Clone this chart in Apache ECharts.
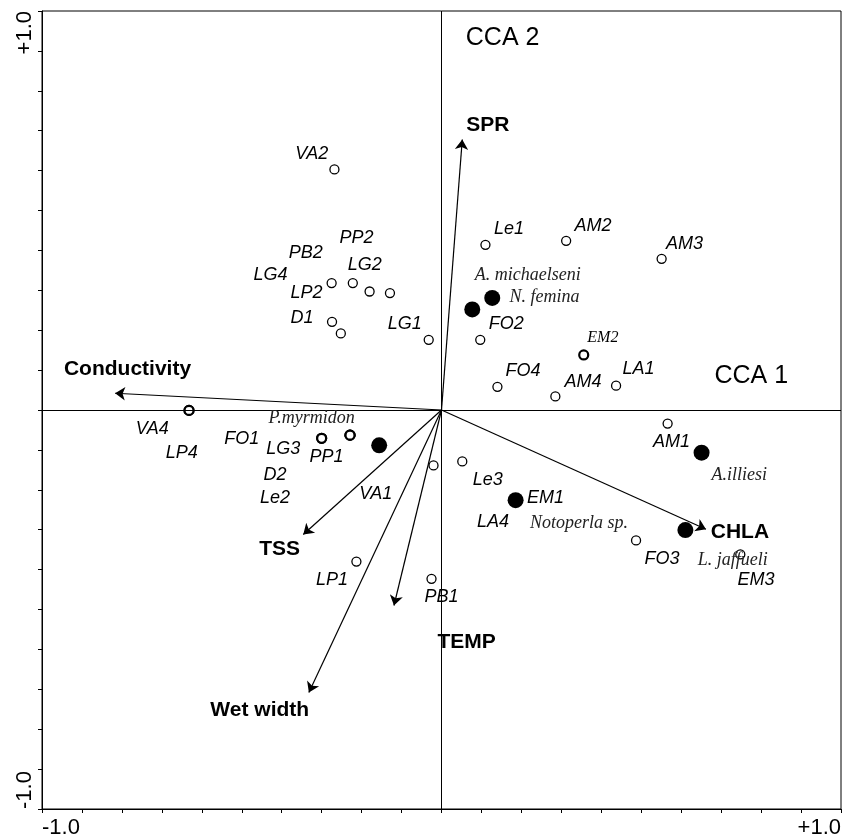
<!DOCTYPE html>
<html>
<head>
<meta charset="utf-8">
<script src="https://cdn.jsdelivr.net/npm/echarts@6/dist/echarts.min.js"></script>
<style>
html,body{margin:0;padding:0;background:#fff;}
#chart{width:842px;height:838px;}
</style>
</head>
<body>
<div id="chart"></div>
<script>
// ---------- DATA ----------
const tickValues = [-1, 1];
const tickLabels = ['-1.0', '+1.0'];

const axisTitleNames = ['CCA 1', 'CCA 2'];
const axisTitleX = [0.7755, 0.153];
const axisTitleY = [0.085, 0.932];

// environmental variables (arrow tips) and their label anchors
const envNames = ['SPR', 'Conductivity', 'TSS', 'TEMP', 'Wet width', 'CHLA'];
const envX = [0.052, -0.817, -0.346, -0.119, -0.332, 0.662];
const envY = [0.678, 0.042, -0.312, -0.490, -0.708, -0.299];
const envLabelX = [0.116, -0.786, -0.405, 0.063, -0.455, 0.747];
const envLabelY = [0.715, 0.101, -0.350, -0.583, -0.752, -0.306];

// sites (open circles) and their label anchors
const siteNames = ['VA2','LG4','PB2','LG2','PP2','LP2','D1','LG1','Le1','AM2','AM3','FO2','EM2','FO4','AM4','LA1','AM1','Le3','EM1','LA4','FO3','EM3','LP1','PB1','VA1','VA4','LP4','FO1','LG3','PP1','D2','Le2'];
const siteX = [-0.268,-0.275,-0.222,-0.180,-0.129,-0.274,-0.252,-0.032,0.110,0.312,0.551,0.097,0.356,0.140,0.285,0.437,0.566,0.052,0.186,0.186,0.487,0.748,-0.213,-0.025,-0.020,-0.632,-0.632,-0.300,-0.300,-0.229,-0.229,-0.229];
const siteY = [0.603,0.318,0.318,0.297,0.293,0.221,0.192,0.176,0.414,0.424,0.379,0.176,0.138,0.058,0.034,0.061,-0.034,-0.129,-0.226,-0.226,-0.327,-0.362,-0.380,-0.423,-0.139,-0.001,-0.001,-0.071,-0.071,-0.063,-0.063,-0.063];
const siteLabelX = [-0.325,-0.428,-0.3395,-0.192,-0.213,-0.338,-0.349,-0.092,0.169,0.379,0.608,0.162,0.404,0.204,0.354,0.493,0.576,0.116,0.2605,0.129,0.552,0.787,-0.274,0.000,-0.1645,-0.724,-0.650,-0.500,-0.396,-0.288,-0.417,-0.417];
const siteLabelY = [0.642,0.339,0.394,0.364,0.430,0.293,0.230,0.215,0.454,0.462,0.416,0.215,0.182,0.098,0.070,0.102,-0.080,-0.176,-0.220,-0.281,-0.373,-0.425,-0.425,-0.468,-0.2115,-0.047,-0.107,-0.073,-0.098,-0.119,-0.164,-0.220];

// species (filled dots) and their label anchors
const speciesNames = ['A. michaelseni', 'N. femina', 'P.myrmidon', 'A.illiesi', 'Notoperla sp.', 'L. jaffueli'];
const speciesX = [0.077, 0.127, -0.156, 0.651, 0.1855, 0.6105];
const speciesY = [0.252, 0.281, -0.0885, -0.107, -0.226, -0.301];
const speciesLabelX = [0.216, 0.258, -0.325, 0.7455, 0.344, 0.729];
const speciesLabelY = [0.338, 0.282, -0.020, -0.164, -0.283, -0.377];

// ---------- STYLE / BUILD ----------
const SANS = '"Liberation Sans", Arial, sans-serif';
const SERIF = '"Liberation Serif", "Times New Roman", serif';
const thickRing = new Set(['EM2']);
const serifSiteLabel = new Set(['EM2']);

function tickFmt(v) {
  for (let i = 0; i < tickValues.length; i++) {
    if (Math.abs(v - tickValues[i]) < 1e-9) return tickLabels[i];
  }
  return '';
}

// count coincident sites -> drawn with heavier ring
const keyCount = {};
siteX.forEach((x, i) => { const k = x + ',' + siteY[i]; keyCount[k] = (keyCount[k] || 0) + 1; });

const siteData = siteNames.map((n, i) => {
  const heavy = keyCount[siteX[i] + ',' + siteY[i]] > 1 || thickRing.has(n);
  return { name: n, value: [siteX[i], siteY[i]], itemStyle: heavy ? { borderWidth: 2.2 } : undefined };
});
const siteLabelData = siteNames.map((n, i) => {
  const d = { name: n, value: [siteLabelX[i], siteLabelY[i]] };
  if (serifSiteLabel.has(n)) d.label = { fontFamily: SERIF, fontSize: 16 };
  return d;
});
const speciesData = speciesNames.map((n, i) => ({ name: n, value: [speciesX[i], speciesY[i]] }));
const speciesLabelData = speciesNames.map((n, i) => ({ name: n, value: [speciesLabelX[i], speciesLabelY[i]] }));
const arrowData = envNames.map((n, i) => ({ name: n, coords: [[0, 0], [envX[i], envY[i]]] }));
const envLabelData = envNames.map((n, i) => ({ name: n, value: [envLabelX[i], envLabelY[i]] }));
const axisTitleData = axisTitleNames.map((n, i) => ({ name: n, value: [axisTitleX[i], axisTitleY[i]] }));

function textSeries(data, labelStyle, z) {
  return {
    type: 'scatter', data: data, symbol: 'circle', symbolSize: 1, z: z, silent: true,
    itemStyle: { color: 'rgba(0,0,0,0)', opacity: 1 },
    label: Object.assign({ show: true, position: 'inside', formatter: p => p.name, color: '#000', opacity: 1 }, labelStyle)
  };
}

const axisCommon = {
  type: 'value', min: -1, max: 1, interval: 0.1,
  axisLine: { onZero: false, lineStyle: { color: '#000', width: 1 } },
  axisTick: { show: true, inside: false, length: 4, lineStyle: { color: '#000', width: 1 } },
  splitLine: { show: false }
};

const chart = echarts.init(document.getElementById('chart'), null, { renderer: 'canvas' });
chart.setOption({
  animation: false,
  backgroundColor: '#fff',
  grid: { left: 42, right: 1, top: 11, bottom: 29, show: true, borderColor: '#000', borderWidth: 1,
    backgroundColor: 'transparent', containLabel: false, outerBoundsMode: 'none' },
  xAxis: Object.assign({}, axisCommon, {
    position: 'bottom',
    axisLabel: { formatter: tickFmt, fontSize: 22, fontFamily: SANS, color: '#000', margin: 8,
      showMinLabel: true, showMaxLabel: true, alignMinLabel: 'left', alignMaxLabel: 'right' }
  }),
  yAxis: Object.assign({}, axisCommon, {
    position: 'left',
    axisLabel: { formatter: tickFmt, fontSize: 22, fontFamily: SANS, color: '#000', margin: 6, rotate: 90,
      showMinLabel: true, showMaxLabel: true, alignMinLabel: 'left', alignMaxLabel: 'right' }
  }),
  series: [
    {
      type: 'lines', coordinateSystem: 'cartesian2d', z: 2, silent: true,
      data: arrowData,
      symbol: ['none', 'arrow'], symbolSize: 10,
      lineStyle: { color: '#000', width: 1.2, opacity: 1 },
      markLine: {
        silent: true, symbol: ['none', 'none'], label: { show: false },
        lineStyle: { color: '#000', width: 1, type: 'solid', opacity: 1 },
        data: [{ xAxis: 0 }, { yAxis: 0 }]
      }
    },
    {
      type: 'scatter', data: siteData, symbol: 'circle', symbolSize: 9, z: 3, silent: true,
      itemStyle: { color: '#fff', borderColor: '#000', borderWidth: 1.3, opacity: 1 }
    },
    {
      type: 'scatter', data: speciesData, symbol: 'circle', symbolSize: 16, z: 4, silent: true,
      itemStyle: { color: '#000', opacity: 1 }
    },
    textSeries(siteLabelData, { fontFamily: SANS, fontStyle: 'italic', fontSize: 18 }, 5),
    textSeries(speciesLabelData, { fontFamily: SERIF, fontStyle: 'italic', fontSize: 18, color: '#222' }, 5),
    textSeries(envLabelData, { fontFamily: SANS, fontWeight: 'bold', fontSize: 21 }, 5),
    textSeries(axisTitleData, { fontFamily: SANS, fontSize: 25 }, 5)
  ]
});
</script>
</body>
</html>
